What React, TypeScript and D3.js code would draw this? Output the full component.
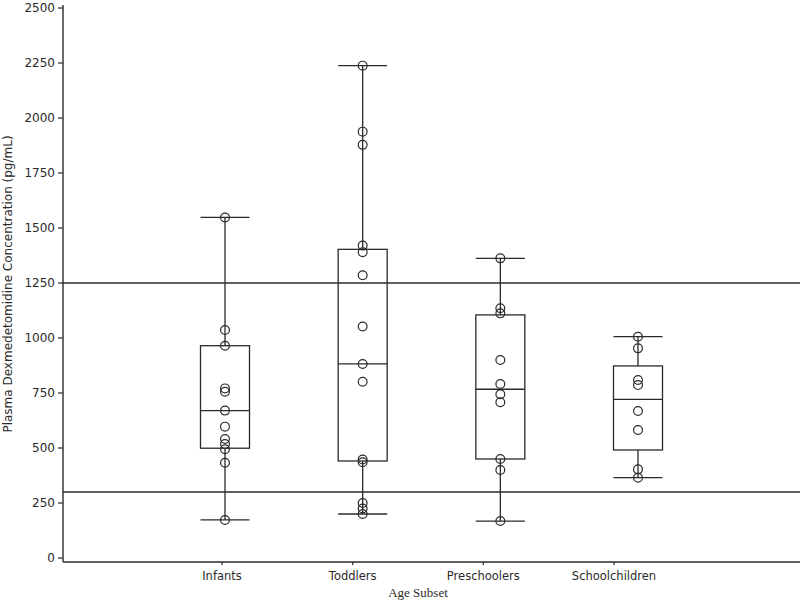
import React from 'react';
import * as d3 from 'd3';

// age groups on the x axis
const categories = ['Infants', 'Toddlers', 'Preschoolers', 'Schoolchildren'];

// individual concentrations (pg/mL)
const infants = [1548, 1036, 965, 771, 756, 670, 597, 541, 518, 494, 433, 173];
const toddlers = [2238, 1938, 1878, 1420, 1390, 1285, 1052, 882, 801, 448, 435, 250, 225, 200];
const preschoolers = [1362, 1135, 1112, 900, 791, 744, 708, 450, 400, 168];
const schoolchildren = [1006, 953, 809, 786, 668, 582, 403, 365];

// box statistics as drawn (q1, median, q3)
const q1 = [499, 441, 450, 491];
const medians = [670, 882, 767, 721];
const q3 = [965, 1403, 1105, 873];

// reference lines
const refLines = [1250, 300];

const yTicks = [0, 250, 500, 750, 1000, 1250, 1500, 1750, 2000, 2250, 2500];

const W = 800;
const H = 604;
const INK = '#2a2a2a';

export default function App() {
    const series = [infants, toddlers, preschoolers, schoolchildren];

    const y = d3.scaleLinear().domain([0, 2500]).range([558, 8]);
    // boxes sit slightly off their tick marks in the original
    const xBox = d3.scalePoint<string>().domain(categories).range([225, 638]);
    const xTick = d3.scalePoint<string>().domain(categories).range([222, 614]);

    const left = 63;
    const bottom = 562;
    const boxW = 49;
    const titleX = (xTick(categories[0])! + xTick(categories[3])!) / 2;

    return (
        <svg width={W} height={H} style={{ position: 'absolute', left: 0, top: 0, background: '#fff' }}>
            {/* reference lines */}
            {refLines.map(v => (
                <line key={v} x1={left} x2={W} y1={y(v)} y2={y(v)} stroke={INK} strokeWidth={1.3} />
            ))}

            {/* axes */}
            <line x1={left} x2={left} y1={5} y2={bottom} stroke={INK} strokeWidth={1.4} />
            <line x1={left} x2={W} y1={bottom} y2={bottom} stroke={INK} strokeWidth={1.4} />

            {yTicks.map(t => (
                <g key={t} transform={`translate(0,${y(t)})`}>
                    <line x1={left - 5} x2={left} stroke={INK} strokeWidth={1.2} />
                    <text x={left - 8} dy="0.35em" textAnchor="end" fontFamily="DejaVu Sans" fontSize={12} fill={INK}>{t}</text>
                </g>
            ))}

            {categories.map(c => (
                <g key={c} transform={`translate(${xTick(c)},0)`}>
                    <line y1={bottom} y2={bottom + 3} stroke={INK} strokeWidth={1.2} />
                    <text y={580} textAnchor="middle" fontFamily="DejaVu Sans" fontSize={11.5} fill={INK}>{c}</text>
                </g>
            ))}

            <text x={titleX} y={597} textAnchor="middle" fontFamily="Liberation Serif" fontSize={13} fill={INK}>Age Subset</text>
            <text transform={`translate(12,${284}) rotate(-90)`} textAnchor="middle" fontFamily="DejaVu Sans" fontSize={12} fill={INK}>
                Plasma Dexmedetomidine Concentration (pg/mL)
            </text>

            {/* box plots */}
            {categories.map((c, i) => {
                const cx = xBox(c)!;
                const vals = series[i];
                const lo = d3.min(vals)!;
                const hi = d3.max(vals)!;
                return (
                    <g key={c} stroke={INK} fill="none" strokeWidth={1.3}>
                        <line x1={cx} x2={cx} y1={y(hi)} y2={y(q3[i])} />
                        <line x1={cx} x2={cx} y1={y(q1[i])} y2={y(lo)} />
                        <line x1={cx - boxW / 2} x2={cx + boxW / 2} y1={y(hi)} y2={y(hi)} />
                        <line x1={cx - boxW / 2} x2={cx + boxW / 2} y1={y(lo)} y2={y(lo)} />
                        <rect x={cx - boxW / 2} y={y(q3[i])} width={boxW} height={y(q1[i]) - y(q3[i])} />
                        <line x1={cx - boxW / 2} x2={cx + boxW / 2} y1={y(medians[i])} y2={y(medians[i])} />
                        {vals.map((v, j) => (
                            <circle key={j} cx={cx} cy={y(v)} r={4.4} strokeWidth={1.2} />
                        ))}
                    </g>
                );
            })}
        </svg>
    );
}
